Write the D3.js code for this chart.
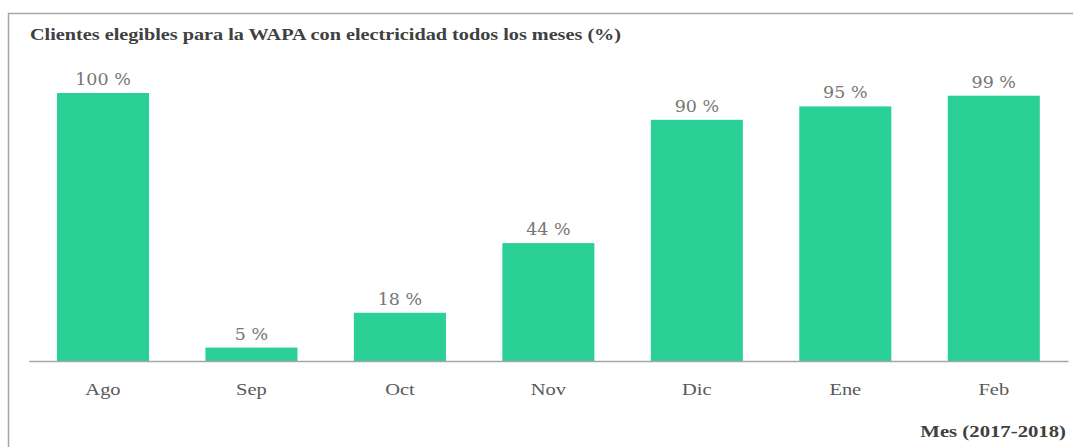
<!DOCTYPE html>
<html>
<head>
<meta charset="utf-8">
<script src="https://cdn.jsdelivr.net/npm/d3@7"></script>
<style>
  body { margin: 0; background: #fff; }
  svg { display: block; }
</style>
</head>
<body>
<script>
var months = ["Ago", "Sep", "Oct", "Nov", "Dic", "Ene", "Feb"],
    values = [100, 5, 18, 44, 90, 95, 99];

var width = 1073,
    height = 447,
    baseY = 361,
    topY = 93; // where 100 % lands

var serif = "'Liberation Serif', 'Times New Roman', serif";

var svg = d3.select("body").append("svg")
    .attr("width", width)
    .attr("height", height);

// frame, open on the right and bottom like the source
svg.append("path")
    .attr("d", "M8.5," + height + "V13.5H" + width)
    .attr("fill", "none")
    .attr("stroke", "#a6a6a6")
    .attr("stroke-width", 1.5);

// the source text is stretched sideways, hence the x scale on the labels
svg.append("text")
    .attr("transform", "translate(30,40) scale(1.19,1)")
    .attr("font-family", serif)
    .attr("font-weight", "bold")
    .attr("font-size", 17)
    .attr("fill", "#404040")
    .text("Clientes elegibles para la WAPA con electricidad todos los meses (%)");

var x = d3.scaleBand()
    .domain(months)
    .range([28.75, 1068])
    .paddingInner(0.38)
    .paddingOuter(0.19);

var y = d3.scaleLinear()
    .domain([0, 100])
    .range([baseY, topY]);

svg.append("g")
    .selectAll("rect")
    .data(values)
    .enter()
    .append("rect")
        .attr("x", function(d, i) { return x(months[i]); })
        .attr("y", function(d) { return y(d); })
        .attr("width", x.bandwidth())
        .attr("height", function(d) { return baseY - y(d); })
        .attr("fill", "#2ad095");

svg.append("g")
    .selectAll("text")
    .data(values)
    .enter()
    .append("text")
        .attr("transform", function(d, i) {
            return "translate(" + (x(months[i]) + x.bandwidth() / 2) + "," + (y(d) - 8) + ") scale(1.06,1)";
        })
        .attr("text-anchor", "middle")
        .attr("font-family", "'DejaVu Serif', Cambria, serif")
        .attr("font-size", 16.5)
        .attr("fill", "#767676")
        .text(function(d) { return d + " %"; });

var xAxis = svg.append("g")
    .attr("transform", "translate(0," + baseY + ")")
    .call(d3.axisBottom(x).tickSize(0).tickPadding(22));

xAxis.select(".domain").attr("stroke", "#a6a6a6").attr("stroke-width", 1.5);
xAxis.selectAll("text")
    .attr("transform", "scale(1.17,1)")
    .attr("font-family", serif)
    .attr("font-size", 17.5)
    .attr("fill", "#595959");

svg.append("text")
    .attr("transform", "translate(1066,437) scale(1.22,1)")
    .attr("text-anchor", "end")
    .attr("font-family", serif)
    .attr("font-weight", "bold")
    .attr("font-size", 17)
    .attr("fill", "#404040")
    .text("Mes (2017-2018)");
</script>
</body>
</html>
